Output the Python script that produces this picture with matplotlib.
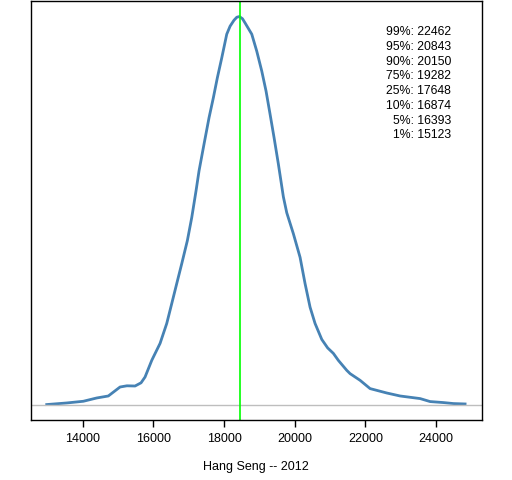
import numpy as np
import matplotlib
matplotlib.use("Agg")
import matplotlib.pyplot as plt

plt.rcParams['font.family'] = ['Liberation Sans', 'DejaVu Sans']

# density curve of the Hang Seng index level (arbitrary units)
x_level = [12981, 13547, 14017, 14396, 14724, 15056, 15250, 15480, 15650, 15763, 15953, 15998,
           16188, 16377, 16519, 16660, 16802, 16960, 17085, 17206, 17291, 17433,
           17574, 17696, 17809, 17934, 18075, 18169, 18280, 18360, 18432, 18520, 18593, 18783, 18924,
           19066, 19187, 19300, 19414, 19535, 19677, 19773, 19960, 20150, 20291,
           20433, 20574, 20764, 20930, 21092, 21233, 21471, 21565, 21848, 22131, 22603,
           22980, 23546, 23829, 24205, 24488, 24819]
dens = [0.2, 1.8, 3.5, 6.8, 8.8, 17.8, 19.0, 18.8, 22.0, 27.8, 44.5, 47.8,
        61.5, 81.5, 101.5, 121.5, 141.5, 164.5, 187.8, 214.5, 234.5, 261.5,
        287.8, 307.8, 327.8, 347.8, 371.5, 379.5, 385.5, 388.5, 389.2, 387.0, 382.8, 371.5, 354.5,
        334.5, 314.5, 291.5, 267.8, 241.5, 208.5, 192.5, 171.5, 147.8, 121.5,
        97.8, 81.5, 65.5, 57.0, 51.5, 44.5, 34.5, 31.2, 24.5, 16.2, 11.8,
        8.8, 6.2, 3.2, 2.2, 1.2, 0.8]
dens = np.array(dens) * 7e-7

median = 18440
q_names = ['99%', '95%', '90%', '75%', '25%', '10%', '5%', '1%']
q_vals = [22462, 20843, 20150, 19282, 17648, 16874, 16393, 15123]

fig = plt.figure(figsize=(5.12, 4.8), dpi=100)
ax = fig.add_axes([0.060, 0.1244, 0.881, 0.8735])

ax.plot(x_level, dens, color='#4682B4', lw=2)
ax.axhline(0, color='#BEBEBE', lw=1)
ax.axvline(median, color='#00FF00', lw=1.2)

top = max(dens)
ax.set_xlim(12528, 25292)
ax.set_ylim(-0.04 * top, 1.04 * top)
ax.set_yticks([])
ax.set_xticks([14000, 16000, 18000, 20000, 22000, 24000])
ax.tick_params(axis='x', length=5, width=1, labelsize=9, pad=4)
for s in ax.spines.values():
    s.set_linewidth(1)

for i, (n, v) in enumerate(zip(q_names, q_vals)):
    ax.text(0.932, 0.926 - i * 0.0352, f'{n}: {v}', transform=ax.transAxes,
            ha='right', va='center', fontsize=8.8)

ax.set_xlabel('Hang Seng -- 2012', fontsize=9, labelpad=12)

fig.savefig('out.png', dpi=100)
